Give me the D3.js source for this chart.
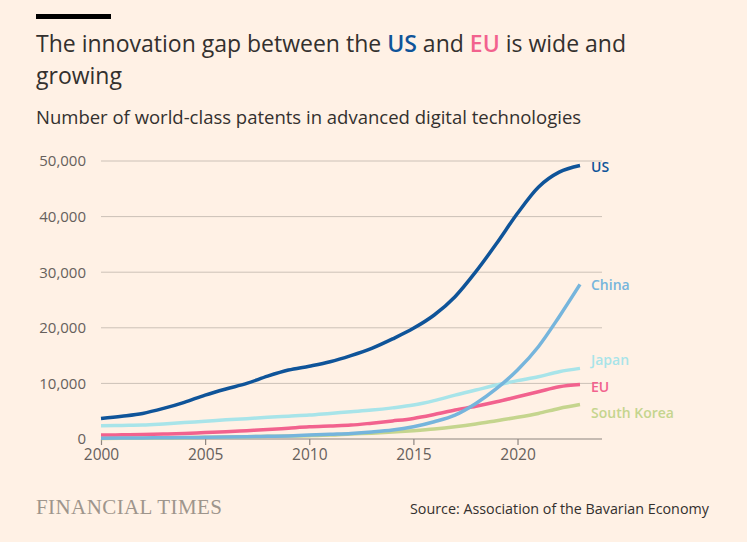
<!DOCTYPE html>
<html><head><meta charset="utf-8">
<script src="https://cdn.jsdelivr.net/npm/d3@7"></script>
<style>
html,body{margin:0;padding:0;background:#fff1e5;}
svg{display:block;}
</style></head>
<body>
<script>
const years = d3.range(2000, 2024);
const usValues     = [3700,4100,4600,5500,6600,7900,9000,10000,11300,12400,13100,13900,15000,16300,18000,19900,22300,25600,30100,35200,40600,45300,48000,49200];
const chinaValues  = [150,170,200,230,260,300,340,400,480,560,700,850,1000,1250,1600,2200,3100,4300,6400,9100,12400,16600,22000,27800];
const japanValues  = [2400,2450,2500,2700,2950,3200,3450,3650,3900,4100,4300,4600,4900,5200,5600,6100,6900,7900,8800,9700,10500,11200,12100,12700];
const euValues     = [700,750,800,880,980,1150,1300,1500,1700,1950,2200,2350,2500,2850,3250,3700,4400,5200,5900,6700,7600,8500,9400,9800];
const skValues     = [100,120,150,180,230,300,350,420,480,540,600,700,900,1050,1250,1500,1800,2200,2700,3300,3900,4600,5500,6200];
const seriesNames  = ["South Korea","EU","Japan","China","US"];
const seriesColors = ["#c5d58e","#f2628e","#a8e4e9","#76b5dc","#0f5499"];
const seriesData   = [skValues, euValues, japanValues, chinaValues, usValues];
const yTicks = [0,10000,20000,30000,40000,50000];
const xTicks = [2000,2005,2010,2015,2020];
const labelY = {"US":48900,"China":27700,"Japan":14200,"EU":9400,"South Korea":4700};

const W=747,H=542;
const svg=d3.select("body").append("svg").attr("width",W).attr("height",H);
svg.append("rect").attr("width",W).attr("height",H).attr("fill","#fff1e5");
svg.append("rect").attr("x",36).attr("y",14).attr("width",75).attr("height",5).attr("fill","#000");

const font="'Open Sans', 'Noto Sans', sans-serif";
const title=svg.append("text").attr("x",36).attr("y",52).attr("font-family",font).attr("font-size",23).attr("fill","#33302e");
title.append("tspan").text("The innovation gap between the ");
title.append("tspan").text("US").attr("fill","#0f5499").attr("font-weight",600);
title.append("tspan").text(" and ");
title.append("tspan").text("EU").attr("fill","#f2628e").attr("font-weight",600);
title.append("tspan").text(" is wide and");
svg.append("text").attr("x",36).attr("y",84).attr("font-family",font).attr("font-size",23).attr("fill","#33302e").text("growing");
svg.append("text").attr("x",36).attr("y",124).attr("font-family",font).attr("font-size",18.5).attr("fill","#33302e").text("Number of world-class patents in advanced digital technologies");

const x=d3.scaleLinear().domain([2000,2023]).range([101,580]);
const y=d3.scaleLinear().domain([0,50000]).range([439,161]);

const grid=svg.append("g");
yTicks.filter(d=>d>0).forEach(t=>{
  grid.append("line").attr("x1",101).attr("x2",602).attr("y1",y(t)).attr("y2",y(t)).attr("stroke","#ccc1b7").attr("stroke-width",1);
});
const yAxis=svg.append("g").attr("transform","translate(86,0)")
  .call(d3.axisLeft(y).tickValues(yTicks).tickSize(0).tickPadding(0).tickFormat(d3.format(",")));
yAxis.select(".domain").remove();
yAxis.selectAll("text").attr("font-family",font).attr("font-size",15).attr("fill","#66605c").attr("dy","0.32em");

const xAxis=svg.append("g").attr("transform","translate(0,439)")
  .call(d3.axisBottom(x).tickValues(xTicks).tickSize(6).tickPadding(4).tickFormat(d3.format("d")));
xAxis.select(".domain").attr("d","M101,0H602").attr("stroke","#8e8680").attr("stroke-width",1.2);
xAxis.selectAll(".tick line").attr("stroke","#8e8680").attr("stroke-width",1.2);
xAxis.selectAll("text").attr("font-family",font).attr("font-size",15.5).attr("fill","#66605c");

const line=d3.line().x((d,i)=>x(years[i])).y(d=>y(d)).curve(d3.curveMonotoneX);
seriesData.forEach((vals,k)=>{
  svg.append("path").attr("d",line(vals)).attr("fill","none").attr("stroke",seriesColors[k]).attr("stroke-width",3.5).attr("stroke-linecap","butt");
  svg.append("text").attr("x",591).attr("y",y(labelY[seriesNames[k]])).attr("dy","0.35em")
    .attr("font-family",font).attr("font-size",14).attr("font-weight",600).attr("fill",seriesColors[k]).text(seriesNames[k]);
});

svg.append("text").attr("x",36).attr("y",514).attr("font-family","'Liberation Serif', serif").attr("font-size",21).attr("fill","#9e958c").attr("textLength",186).text("FINANCIAL TIMES");
svg.append("text").attr("x",410).attr("y",514).attr("font-family",font).attr("font-size",14.3).attr("fill","#33302e").text("Source: Association of the Bavarian Economy");
</script>
</body></html>
